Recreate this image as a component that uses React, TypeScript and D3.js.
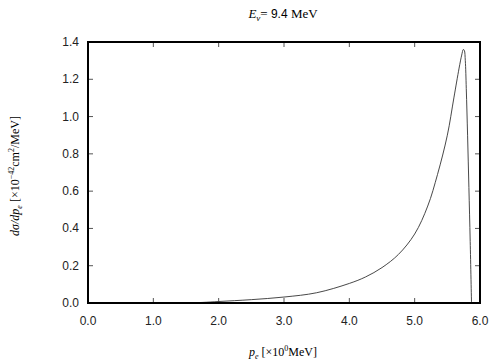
import * as d3 from "d3";

const W = 504;
const H = 360;
const LEFT = 88;
const RIGHT = 24;
const TOP = 42;
const BOTTOM = 57;

// momentum of the electron, MeV
const P_E = [
  1.5, 1.75, 2.0, 2.5, 3.0, 3.5, 4.0, 4.25, 4.5, 4.75, 5.0, 5.2, 5.35, 5.5, 5.6,
  5.68, 5.72, 5.745, 5.76, 5.775, 5.79, 5.81, 5.83, 5.85, 5.87,
];
// dsigma/dp_e in 1e-42 cm^2/MeV
const DSIGMA = [
  0, 0.003, 0.008, 0.018, 0.032, 0.055, 0.105, 0.14, 0.19, 0.26, 0.37, 0.52, 0.69,
  0.9, 1.1, 1.26, 1.33, 1.36, 1.355, 1.3, 1.15, 0.9, 0.62, 0.33, 0,
];

const X_TICKS = [0, 1, 2, 3, 4, 5, 6];
const Y_TICKS = [0, 0.2, 0.4, 0.6, 0.8, 1.0, 1.2, 1.4];

export default function App() {
  const x = d3.scaleLinear().domain([0, 6]).range([LEFT, W - RIGHT]);
  const y = d3.scaleLinear().domain([0, 1.4]).range([H - BOTTOM, TOP]);

  const line = d3
    .line<number>()
    .x((_, i) => x(P_E[i]))
    .y((d) => y(d))
    .curve(d3.curveCatmullRom.alpha(0.5));

  const sans = "'Liberation Sans', Arial, sans-serif";
  const serif = "'Liberation Serif', 'Times New Roman', serif";
  const TICK = 5;

  return (
    <svg
      width={W}
      height={H}
      style={{ position: "absolute", left: 0, top: 0, background: "#fff" }}
    >
      {/* title */}
      <text x={283} y={18} textAnchor="middle" fontFamily={serif} fontSize={13}>
        <tspan fontStyle="italic">E</tspan>
        <tspan fontStyle="italic" fontSize={9} dy={3}>ν</tspan>
        <tspan dy={-3}>= </tspan>
        <tspan fontFamily={sans} fontSize={12}>9.4</tspan>
        <tspan> MeV</tspan>
      </text>

      {/* ticks */}
      {X_TICKS.map((t) => (
        <g key={"x" + t}>
          <line x1={x(t)} x2={x(t)} y1={y(0)} y2={y(0) - TICK} stroke="#555" />
          <line x1={x(t)} x2={x(t)} y1={y(1.4)} y2={y(1.4) + TICK} stroke="#555" />
          <text
            x={x(t)}
            y={y(0) + 22}
            textAnchor="middle"
            fontFamily={sans}
            fontSize={12}
            fill="#222"
          >
            {t.toFixed(1)}
          </text>
        </g>
      ))}
      {Y_TICKS.map((t) => (
        <g key={"y" + t}>
          <line x1={x(0)} x2={x(0) + TICK} y1={y(t)} y2={y(t)} stroke="#555" />
          <line x1={x(6)} x2={x(6) - TICK} y1={y(t)} y2={y(t)} stroke="#555" />
          <text
            x={x(0) - 9}
            y={y(t) + 4}
            textAnchor="end"
            fontFamily={sans}
            fontSize={12}
            fill="#222"
          >
            {t.toFixed(1)}
          </text>
        </g>
      ))}

      {/* curve */}
      <path d={line(DSIGMA) ?? ""} fill="none" stroke="#333" strokeWidth={0.9} />

      {/* frame */}
      <rect
        x={x(0)}
        y={y(1.4)}
        width={x(6) - x(0)}
        height={y(0) - y(1.4)}
        fill="none"
        stroke="#000"
        strokeWidth={2}
      />

      {/* x label */}
      <text x={283} y={356} textAnchor="middle" fontFamily={serif} fontSize={12}>
        <tspan fontStyle="italic">p</tspan>
        <tspan fontStyle="italic" fontSize={8} dy={3}>e</tspan>
        <tspan dy={-3}> [×10</tspan>
        <tspan fontSize={8} dy={-5}>0</tspan>
        <tspan dy={5}>MeV]</tspan>
      </text>

      {/* y label */}
      <text
        transform="translate(19,176) rotate(-90)"
        textAnchor="middle"
        fontFamily={serif}
        fontSize={12}
      >
        <tspan fontStyle="italic">dσ/dp</tspan>
        <tspan fontStyle="italic" fontSize={8} dy={3}>e</tspan>
        <tspan dy={-3}> [×10</tspan>
        <tspan fontSize={8} dy={-5}>−42</tspan>
        <tspan dy={5}>cm</tspan>
        <tspan fontSize={8} dy={-5}>2</tspan>
        <tspan dy={5}>/MeV]</tspan>
      </text>
    </svg>
  );
}
